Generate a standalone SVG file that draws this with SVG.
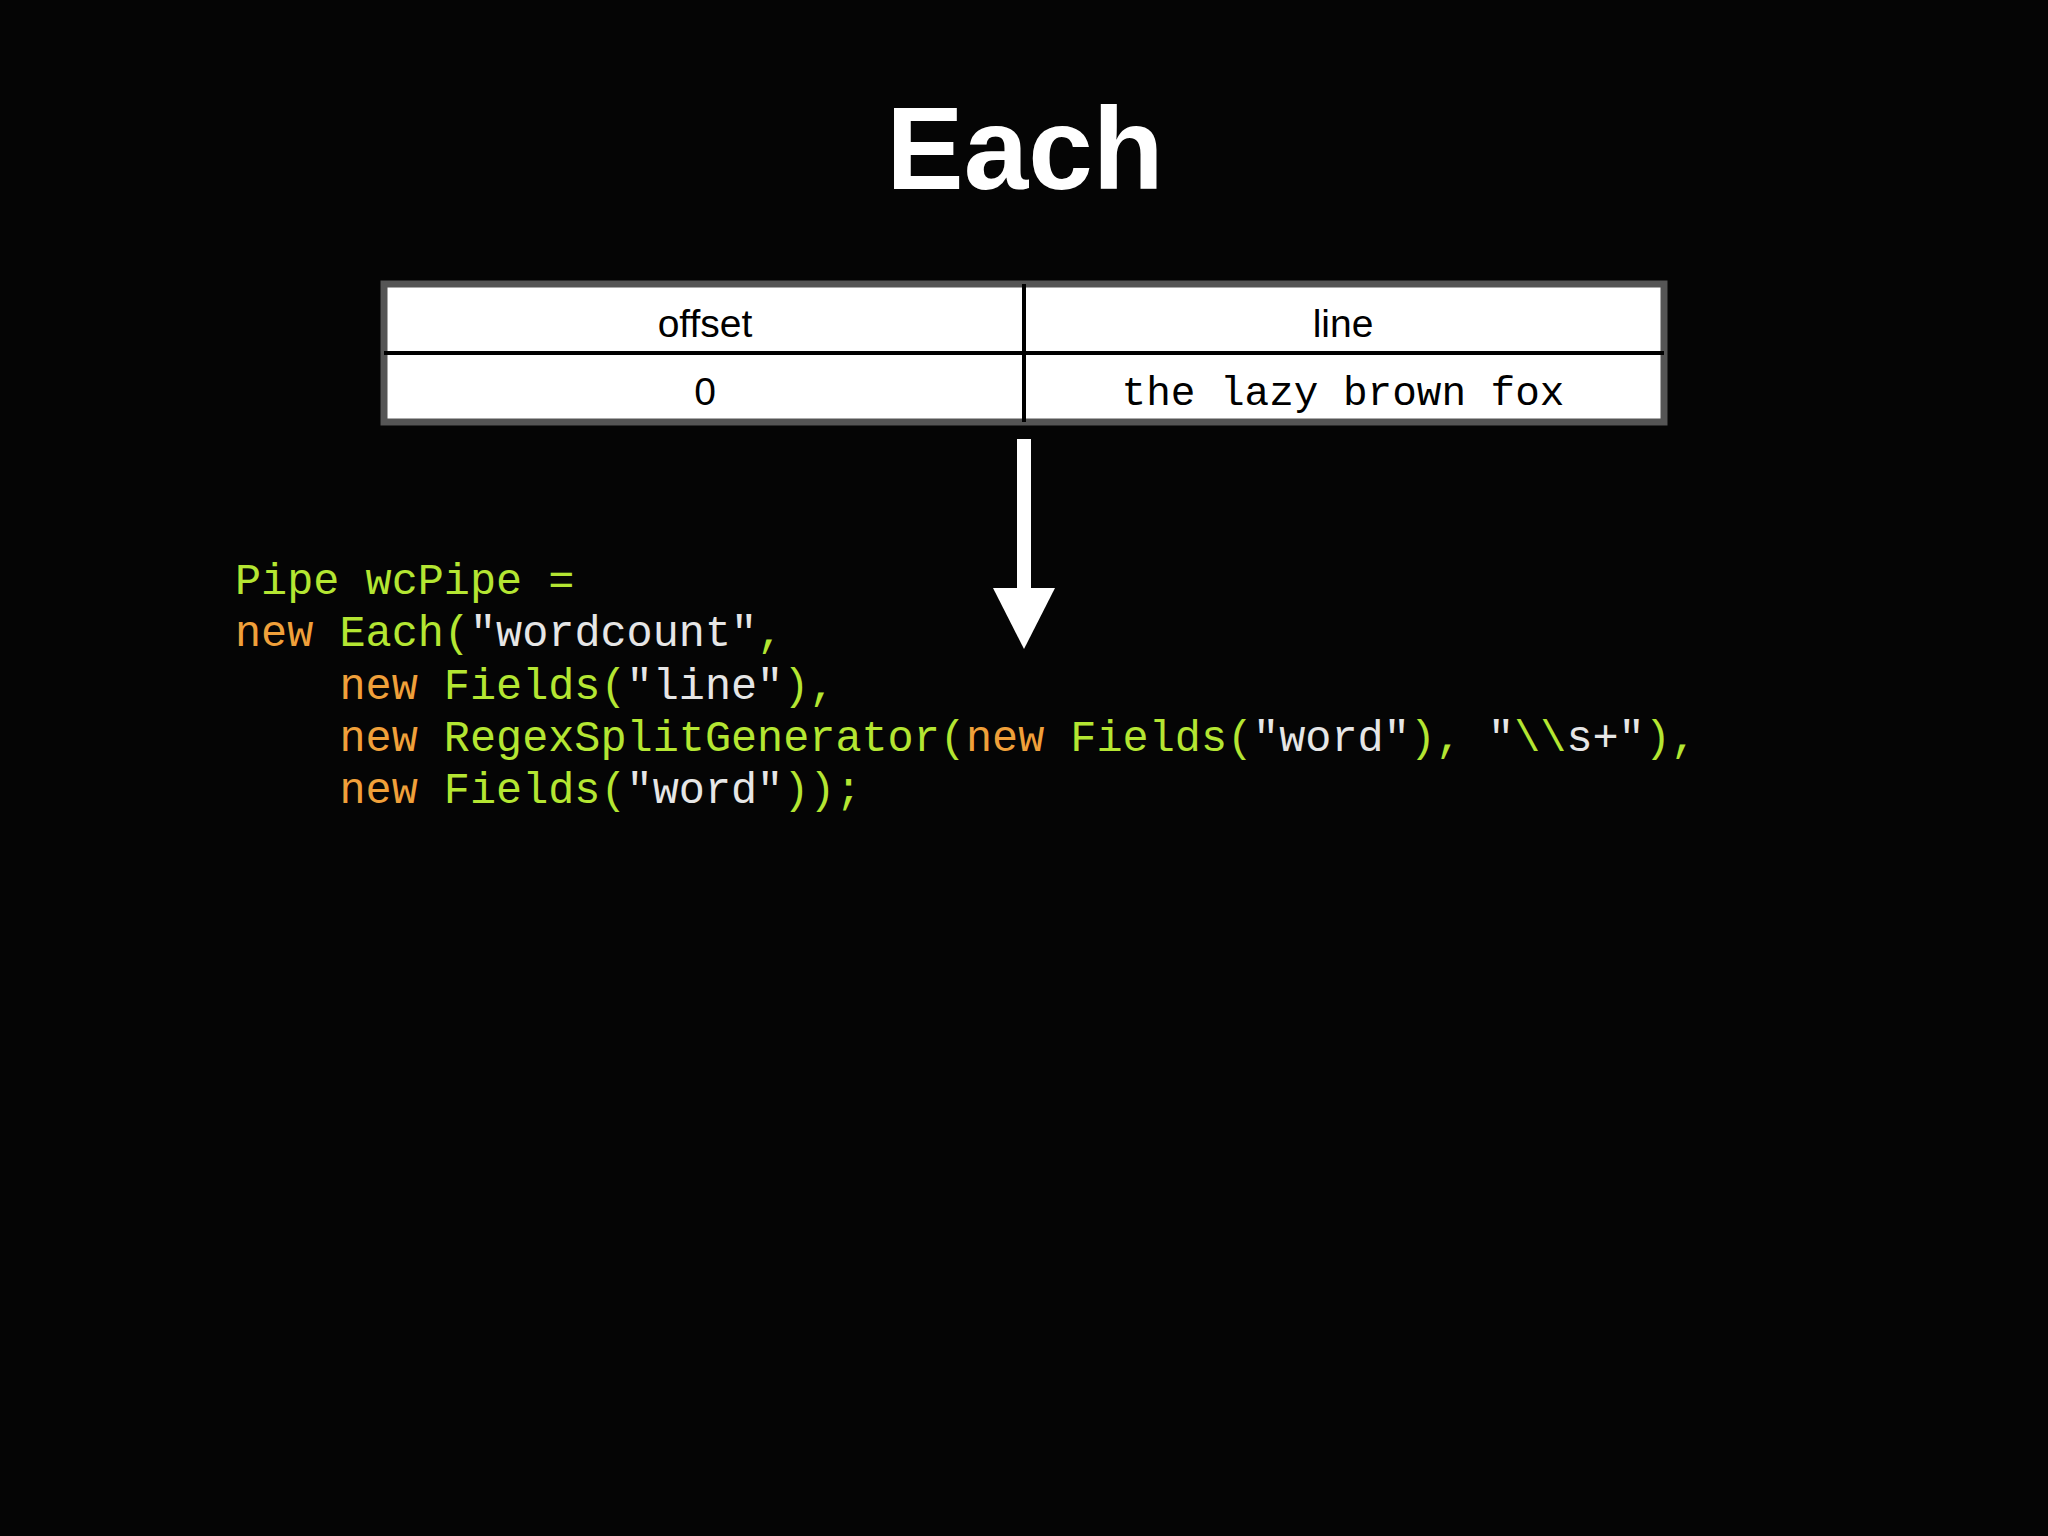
<svg xmlns="http://www.w3.org/2000/svg" width="2048" height="1536" viewBox="0 0 2048 1536">
<style>
.t{font-family:"Liberation Sans","DejaVu Sans",sans-serif;fill:#000;font-size:39px;text-anchor:middle}
.c{font-family:"Liberation Mono",monospace;font-size:43.5px;white-space:pre}
.g{fill:#b4e632}.o{fill:#f0a03a}.w{fill:#e6e6e6}
</style>
<rect width="2048" height="1536" fill="#050505"/>
<text x="1025" y="189" text-anchor="middle" font-family="'Liberation Sans',sans-serif" font-weight="bold" font-size="116" fill="#fff">Each</text>
<g id="table">
<rect x="384" y="284" width="1280" height="138" fill="#fff" stroke="#555" stroke-width="7"/>
<line x1="384" y1="353" x2="1664" y2="353" stroke="#000" stroke-width="4"/>
<line x1="1024" y1="284" x2="1024" y2="422" stroke="#000" stroke-width="4"/>
<text class="t" x="705" y="337">offset</text>
<text class="t" x="1343" y="337">line</text>
<text class="t" x="705" y="405">0</text>
<text x="1343" y="405" text-anchor="middle" font-family="'Liberation Mono',monospace" font-size="41">the lazy brown fox</text>
</g>
<g id="connectors">
<rect x="1017" y="439" width="14" height="152" fill="#fff"/>
<polygon points="993,588 1055,588 1024,649" fill="#fff"/>
</g>
<g id="code" class="c">
<text x="235" y="594" xml:space="preserve"><tspan class="g">Pipe wcPipe =</tspan></text>
<text x="235" y="646" xml:space="preserve"><tspan class="o">new</tspan><tspan class="g"> Each(</tspan><tspan class="w">"wordcount"</tspan><tspan class="g">,</tspan></text>
<text x="235" y="699" xml:space="preserve"><tspan class="o">    new</tspan><tspan class="g"> Fields(</tspan><tspan class="w">"line"</tspan><tspan class="g">),</tspan></text>
<text x="235" y="751" xml:space="preserve"><tspan class="o">    new</tspan><tspan class="g"> RegexSplitGenerator(</tspan><tspan class="o">new</tspan><tspan class="g"> Fields(</tspan><tspan class="w">"word"</tspan><tspan class="g">), </tspan><tspan class="w">"</tspan><tspan class="g">\\</tspan><tspan class="w">s+"</tspan><tspan class="g">),</tspan></text>
<text x="235" y="803" xml:space="preserve"><tspan class="o">    new</tspan><tspan class="g"> Fields(</tspan><tspan class="w">"word"</tspan><tspan class="g">));</tspan></text>
</g>
</svg>
